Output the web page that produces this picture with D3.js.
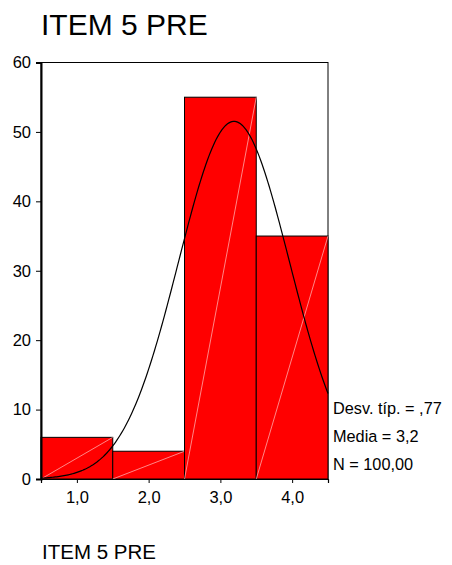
<!DOCTYPE html>
<html><head><meta charset="utf-8">
<script src="https://cdn.jsdelivr.net/npm/d3@7"></script>
<style>
html,body{margin:0;padding:0;background:#fff;}
svg text{font-family:"Liberation Sans",Arial,sans-serif;fill:#000;}
</style></head>
<body><svg id="c" width="452" height="565"></svg>
<script>
const categories = [1, 2, 3, 4];
const counts = [6, 4, 55, 35];
const yTicks = [0, 10, 20, 30, 40, 50, 60];
const xTickLabels = ["1,0", "2,0", "3,0", "4,0"];
const statLabels = ["Desv. típ. = ,77", "Media = 3,2", "N = 100,00"];
const stats = {mean: 3.19, sd: 0.7745, n: 100, binWidth: 1};
const title = "ITEM 5 PRE";

const svg = d3.select("#c");
const L = 41, R = 328, T = 62.5, B = 479;
const x = d3.scaleLinear().domain([0.5, 4.5]).range([L, R]);
const y = d3.scaleLinear().domain([0, 60]).range([B, T]);

svg.append("text").attr("x", 41).attr("y", 35).attr("font-size", 30).text(title);

// frame
svg.append("rect").attr("x", L).attr("y", T).attr("width", R - L).attr("height", B - T)
  .attr("fill", "none").attr("stroke", "#000").attr("stroke-width", 1);

// bars
const bars = svg.append("g");
categories.forEach((c, i) => {
  const x0 = x(c - stats.binWidth / 2), x1 = x(c + stats.binWidth / 2);
  bars.append("rect").attr("x", x0).attr("y", y(counts[i])).attr("width", x1 - x0)
    .attr("height", y(0) - y(counts[i])).attr("fill", "#ff0000").attr("stroke", "#000").attr("stroke-width", 1);
  bars.append("line").attr("x1", x0).attr("y1", y(0)).attr("x2", x1).attr("y2", y(counts[i]))
    .attr("stroke", "#ffc0c0").attr("stroke-width", 0.7);
});

// normal curve
const pts = d3.range(0, 201).map(k => {
  const xv = 0.5 + 4 * k / 200;
  const z = (xv - stats.mean) / stats.sd;
  return [xv, stats.n * stats.binWidth / (stats.sd * Math.sqrt(2 * Math.PI)) * Math.exp(-0.5 * z * z)];
});
svg.append("path").attr("d", d3.line().x(d => x(d[0])).y(d => y(d[1]))(pts))
  .attr("fill", "none").attr("stroke", "#000").attr("stroke-width", 1.2);

// axes
const ya = svg.append("g").attr("transform", `translate(${L},0)`)
  .call(d3.axisLeft(y).tickValues(yTicks).tickSize(5).tickPadding(5).tickFormat(d3.format("d")));
ya.select(".domain").attr("stroke-width", 2);
ya.selectAll("text").attr("font-size", 16.5).attr("font-family", "Liberation Sans, Arial, sans-serif");

const xa = svg.append("g").attr("transform", `translate(0,${B})`)
  .call(d3.axisBottom(x).tickValues(categories).tickSize(4).tickPadding(8).tickFormat((d, i) => xTickLabels[i]));
xa.select(".domain").attr("stroke-width", 1.2);
xa.selectAll("text").attr("font-size", 16.5).attr("font-family", "Liberation Sans, Arial, sans-serif");

// stats
statLabels.forEach((s, i) => {
  svg.append("text").attr("x", 333).attr("y", 413.5 + i * 28.3).attr("font-size", 16.3).text(s);
});

svg.append("text").attr("x", 42).attr("y", 559).attr("font-size", 20.5).text(title);
</script></body></html>
